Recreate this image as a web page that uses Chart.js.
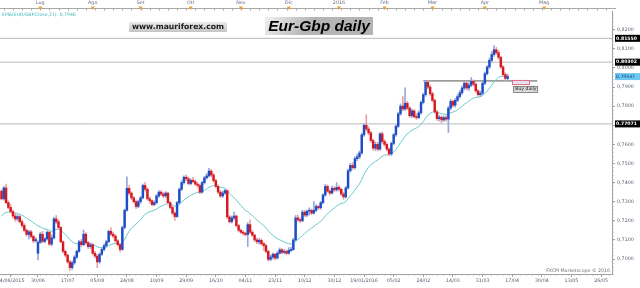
<!DOCTYPE html>
<html>
<head>
<meta charset="utf-8">
<script src="https://cdn.jsdelivr.net/npm/chart.js@4.4.1/dist/chart.umd.min.js"></script>
<style>
  html, body { margin: 0; padding: 0; background: #fff; }
</style>
</head>
<body>
<canvas id="eurgbp" width="640" height="288"></canvas>
<script>
// EUR/GBP daily candles, bar 0 = 08/06/2015, last bar = 15/04/2016
const opens = [
  .7355,.7315,.7372,.7295,.7270,.7248,.7225,.7210,.7222,.7195,
  .7175,.7150,.7128,.7142,.7118,.7095,.7030,.7088,.7130,.7092,
  .7105,.7140,.7078,.7110,.7210,.7195,.7165,.7090,.7040,.7020,
  .6985,.6955,.6980,.7010,.7040,.7090,.7075,.7130,.7085,.7065,
  .7075,.7030,.7015,.6985,.7025,.7050,.7070,.7090,.7145,.7130,
  .7120,.7095,.7075,.7050,.7165,.7255,.7370,.7345,.7320,.7300,
  .7275,.7300,.7320,.7385,.7365,.7315,.7305,.7285,.7295,.7330,
  .7350,.7340,.7330,.7345,.7295,.7270,.7240,.7222,.7295,.7365,
  .7400,.7428,.7420,.7395,.7412,.7405,.7392,.7385,.7350,.7400,
  .7425,.7435,.7460,.7440,.7410,.7380,.7350,.7330,.7345,.7358,
  .7220,.7195,.7215,.7225,.7175,.7150,.7140,.7135,.7128,.7180,
  .7140,.7125,.7100,.7090,.7098,.7080,.7070,.7040,.6998,.7010,
  .7025,.7005,.7030,.7048,.7035,.7040,.7030,.7045,.7050,.7100,
  .7215,.7205,.7200,.7245,.7230,.7250,.7255,.7240,.7255,.7275,
  .7268,.7295,.7335,.7380,.7355,.7345,.7370,.7362,.7375,.7365,
  .7340,.7325,.7372,.7462,.7490,.7478,.7525,.7535,.7555,.7650,
  .7700,.7680,.7660,.7620,.7580,.7600,.7575,.7655,.7615,.7600,
  .7575,.7550,.7605,.7650,.7695,.7760,.7800,.7785,.7815,.7790,
  .7750,.7775,.7745,.7740,.7765,.7820,.7860,.7925,.7900,.7865,
  .7830,.7770,.7735,.7742,.7728,.7740,.7732,.7790,.7825,.7805,
  .7830,.7850,.7870,.7895,.7920,.7895,.7910,.7930,.7915,.7880,
  .7860,.7868,.7920,.7970,.8005,.8040,.8070,.8095,.8080,.8055,
  .8005,.7965,.7945
];
const highs = [
  .7362,.7380,.7392,.7305,.7285,.7258,.7240,.7232,.7228,.7205,
  .7185,.7158,.7150,.7150,.7125,.7112,.7095,.7140,.7145,.7112,
  .7148,.7145,.7125,.7220,.7228,.7205,.7170,.7095,.7048,.7025,
  .6992,.6990,.7018,.7048,.7098,.7102,.7152,.7138,.7092,.7085,
  .7080,.7040,.7022,.7032,.7058,.7080,.7098,.7152,.7165,.7140,
  .7128,.7102,.7082,.7172,.7262,.7430,.7385,.7352,.7328,.7308,
  .7308,.7328,.7392,.7400,.7372,.7325,.7310,.7305,.7338,.7358,
  .7358,.7348,.7352,.7350,.7302,.7278,.7248,.7302,.7372,.7410,
  .7435,.7440,.7430,.7420,.7428,.7415,.7400,.7392,.7408,.7432,
  .7448,.7475,.7468,.7448,.7418,.7388,.7358,.7355,.7365,.7362,
  .7228,.7225,.7245,.7230,.7182,.7158,.7148,.7142,.7190,.7205,
  .7150,.7132,.7110,.7108,.7105,.7088,.7078,.7048,.7020,.7032,
  .7030,.7040,.7058,.7055,.7050,.7048,.7060,.7062,.7108,.7228,
  .7230,.7215,.7255,.7255,.7258,.7268,.7262,.7300,.7285,.7282,
  .7302,.7342,.7390,.7388,.7362,.7382,.7380,.7400,.7385,.7372,
  .7350,.7380,.7470,.7500,.7505,.7535,.7548,.7565,.7658,.7710,
  .7755,.7692,.7668,.7628,.7612,.7610,.7662,.7665,.7625,.7608,
  .7582,.7612,.7658,.7702,.7768,.7812,.7850,.7896,.7825,.7798,
  .7785,.7782,.7760,.7775,.7828,.7868,.7935,.7932,.7910,.7875,
  .7838,.7778,.7752,.7750,.7748,.7750,.7800,.7835,.7832,.7840,
  .7860,.7882,.7905,.7930,.7928,.7922,.7950,.7938,.7922,.7888,
  .7878,.7928,.7978,.8012,.8052,.8085,.8117,.8108,.8092,.8062,
  .8012,.7975,.7968
];
const lows = [
  .7310,.7308,.7290,.7262,.7240,.7215,.7198,.7200,.7188,.7165,
  .7142,.7120,.7105,.7110,.7085,.7088,.6995,.7080,.7085,.7085,
  .7098,.7070,.7070,.7105,.7185,.7158,.7085,.7030,.7010,.6978,
  .6940,.6945,.6972,.7002,.7035,.7065,.7070,.7078,.7055,.7055,
  .7022,.7005,.6955,.6978,.7018,.7042,.7062,.7085,.7122,.7110,
  .7088,.7068,.7037,.7045,.7158,.7250,.7335,.7310,.7292,.7265,
  .7268,.7290,.7315,.7355,.7308,.7292,.7278,.7278,.7288,.7322,
  .7332,.7320,.7322,.7288,.7262,.7232,.7202,.7218,.7288,.7358,
  .7392,.7410,.7388,.7388,.7398,.7385,.7375,.7342,.7345,.7392,
  .7418,.7428,.7430,.7400,.7372,.7342,.7322,.7322,.7338,.7212,
  .7188,.7188,.7205,.7168,.7142,.7132,.7125,.7120,.7065,.7132,
  .7118,.7092,.7080,.7078,.7072,.7045,.7032,.6990,.6990,.7000,
  .6995,.7000,.7025,.7028,.7028,.7022,.7025,.7038,.7045,.7095,
  .7195,.7190,.7195,.7220,.7222,.7230,.7232,.7235,.7248,.7260,
  .7260,.7288,.7328,.7348,.7335,.7340,.7352,.7355,.7355,.7332,
  .7312,.7318,.7365,.7455,.7468,.7470,.7515,.7525,.7548,.7642,
  .7670,.7650,.7610,.7570,.7568,.7565,.7568,.7605,.7590,.7565,
  .7540,.7542,.7598,.7642,.7688,.7752,.7775,.7778,.7782,.7742,
  .7740,.7738,.7730,.7735,.7758,.7812,.7852,.7890,.7855,.7822,
  .7762,.7725,.7722,.7712,.7720,.7722,.7662,.7780,.7795,.7795,
  .7822,.7842,.7860,.7885,.7885,.7882,.7902,.7905,.7872,.7852,
  .7850,.7860,.7912,.7962,.7998,.8030,.8060,.8070,.8045,.7998,
  .7955,.7935,.7935
];
const closes = [
  .7315,.7372,.7295,.7270,.7248,.7225,.7210,.7222,.7195,.7175,
  .7150,.7128,.7142,.7118,.7095,.7102,.7088,.7130,.7092,.7105,
  .7140,.7078,.7110,.7210,.7195,.7165,.7090,.7040,.7020,.6985,
  .6955,.6980,.7010,.7040,.7090,.7075,.7130,.7085,.7065,.7075,
  .7030,.7015,.6985,.7025,.7050,.7070,.7090,.7145,.7130,.7120,
  .7095,.7075,.7050,.7165,.7255,.7370,.7345,.7320,.7300,.7275,
  .7300,.7320,.7385,.7365,.7315,.7305,.7285,.7295,.7330,.7350,
  .7340,.7330,.7345,.7295,.7270,.7240,.7222,.7295,.7365,.7400,
  .7428,.7420,.7395,.7412,.7405,.7392,.7385,.7350,.7400,.7425,
  .7435,.7460,.7440,.7410,.7380,.7350,.7330,.7345,.7358,.7220,
  .7195,.7215,.7225,.7175,.7150,.7140,.7135,.7128,.7180,.7140,
  .7125,.7100,.7090,.7098,.7080,.7070,.7040,.6998,.7010,.7025,
  .7005,.7030,.7048,.7035,.7040,.7030,.7045,.7050,.7100,.7215,
  .7205,.7200,.7245,.7230,.7250,.7255,.7240,.7255,.7275,.7268,
  .7295,.7335,.7380,.7355,.7345,.7370,.7362,.7375,.7365,.7340,
  .7325,.7372,.7462,.7490,.7478,.7525,.7535,.7555,.7650,.7700,
  .7680,.7660,.7620,.7580,.7600,.7575,.7655,.7615,.7600,.7575,
  .7550,.7605,.7650,.7695,.7760,.7800,.7785,.7815,.7790,.7750,
  .7775,.7745,.7740,.7765,.7820,.7860,.7925,.7900,.7865,.7830,
  .7770,.7735,.7742,.7728,.7740,.7732,.7790,.7825,.7805,.7830,
  .7850,.7870,.7895,.7920,.7895,.7910,.7930,.7915,.7880,.7860,
  .7868,.7920,.7970,.8005,.8040,.8070,.8095,.8080,.8055,.8005,
  .7965,.7945,.7955
];

// axis labels (bar index they sit on)
const dateTickBars = [4, 16, 29, 42, 55, 68, 81, 94, 107, 120, 133, 146, 159, 172, 185, 198, 211, 224, 237, 250, 263];
const dateTickLabels = ['04/06/2015', '30/06', '17/07', '05/08', '24/08', '10/09', '29/09', '16/10', '04/11', '23/11',
  '10/12', '30/12', '19/01/2016', '05/02', '24/02', '14/03', '31/03', '17/04', '30/04', '13/05', '26/05'];
const monthBars = [17, 40, 61, 83, 105, 126, 148, 168, 189, 212, 238];
const monthLabels = ['Lug', 'Ago', 'Set', 'Ott', 'Nov', 'Dic', '2016', 'Feb', 'Mar', 'Apr', 'Mag'];
const priceTicks = [0.70, 0.71, 0.72, 0.73, 0.74, 0.75, 0.76, 0.77, 0.78, 0.79, 0.80, 0.81, 0.82];

// drawn levels
const levels = [0.81550, 0.80302, 0.77071];
const lastQuote = 0.79547;
const resistance = 0.7932;
const resistanceBars = [185, 235];
const buyZoneBars = [224, 231.5];
const buyZonePrices = [0.7917, 0.7938];

const emaPeriod = 21;
const emaSeed = 0.7215;
const emaText = 'EMA(EUR/GBP.Close,21): 0,7946';

const k = 2 / (emaPeriod + 1);
let e = emaSeed;
const emaPoints = closes.map((c, i) => { e = e + k * (c - e); return { x: i, y: e }; });

const up = closes.map((c, i) => c >= opens[i]);
const wickData = highs.map((h, i) => ({ x: i, y: [lows[i], h] }));
const bodyData = opens.map((o, i) => ({ x: i, y: [o, closes[i]] }));

Chart.defaults.font.family = 'DejaVu Sans';

const levelSets = levels.map(v => ({
  type: 'line',
  data: [{ x: -2, y: v }, { x: 270, y: v }],
  borderColor: '#b8b8b8',
  borderWidth: 1,
  pointRadius: 0,
  order: 6,
}));

const extras = {
  id: 'extras',
  afterDraw(chart) {
    const { ctx, chartArea: ca, scales: { x, y } } = chart;
    ctx.save();

    // top ruler with months
    ctx.strokeStyle = '#a8a8a8';
    ctx.lineWidth = 1;
    ctx.beginPath();
    ctx.moveTo(0, 8.5);
    ctx.lineTo(ca.right + 4, 8.5);
    for (let b = 1; b < 268; b += 4) {
      const px = Math.round(x.getPixelForValue(b)) + 0.5;
      ctx.moveTo(px, 8.5);
      ctx.lineTo(px, 10.5);
    }
    ctx.stroke();
    ctx.font = '4.8px "DejaVu Sans"';
    ctx.fillStyle = '#6a6a80';
    ctx.textAlign = 'center';
    ctx.textBaseline = 'middle';
    monthBars.forEach((b, i) => {
      const px = x.getPixelForValue(b);
      ctx.fillText(monthLabels[i], px, 3);
    });
    ctx.fillStyle = '#f0a020';
    monthBars.forEach(b => {
      const px = x.getPixelForValue(b);
      ctx.beginPath();
      ctx.moveTo(px - 2, 6.5);
      ctx.lineTo(px + 2, 6.5);
      ctx.lineTo(px, 10);
      ctx.closePath();
      ctx.fill();
    });

    // minor ticks bottom and right
    ctx.strokeStyle = '#a8a8a8';
    ctx.beginPath();
    for (let b = 4 - 2.6; b < 268; b += 2.6) {
      const px = Math.round(x.getPixelForValue(b)) + 0.5;
      if (px < 0) continue;
      ctx.moveTo(px, ca.bottom);
      ctx.lineTo(px, ca.bottom + 1.5);
    }
    for (let v = 0.692; v < 0.8298; v += 0.002) {
      const py = Math.round(y.getPixelForValue(v)) + 0.5;
      ctx.moveTo(ca.right, py);
      ctx.lineTo(ca.right + 1.5, py);
    }
    ctx.stroke();

    // boxed levels on the price axis
    ctx.font = 'bold 4.6px "DejaVu Sans"';
    ctx.textAlign = 'left';
    levels.forEach(v => {
      const py = y.getPixelForValue(v);
      ctx.fillStyle = '#000';
      ctx.fillRect(ca.right + 3, py - 3.5, 640 - ca.right - 3, 7);
      ctx.fillStyle = '#fff';
      ctx.fillText(v.toFixed(5), ca.right + 4, py);
    });
    const qy = y.getPixelForValue(lastQuote);
    ctx.fillStyle = '#6cc8f0';
    ctx.fillRect(ca.right + 3, qy - 3.5, 640 - ca.right - 3, 7);
    ctx.fillStyle = '#124080';
    ctx.font = '4.6px "DejaVu Sans"';
    ctx.fillText(lastQuote.toFixed(5), ca.right + 4, qy);

    // buy zone
    const zx1 = x.getPixelForValue(buyZoneBars[0]);
    const zx2 = x.getPixelForValue(buyZoneBars[1]);
    const zy1 = y.getPixelForValue(buyZonePrices[1]);
    const zy2 = y.getPixelForValue(buyZonePrices[0]);
    ctx.fillStyle = '#e4e0f2';
    ctx.fillRect(zx1, zy1, zx2 - zx1, zy2 - zy1);
    ctx.strokeStyle = '#e07088';
    ctx.strokeRect(Math.round(zx1) + 0.5, Math.round(zy1) + 0.5, Math.round(zx2 - zx1), Math.round(zy2 - zy1));
    ctx.fillStyle = '#d8d8d8';
    ctx.fillRect(zx1 + 1, zy2 + 2, 25, 6);
    ctx.strokeStyle = '#888';
    ctx.strokeRect(Math.round(zx1) + 1.5, Math.round(zy2) + 2.5, 24, 6);
    ctx.fillStyle = '#222';
    ctx.font = '4.6px "DejaVu Sans"';
    ctx.fillText('Buy daily', zx1 + 3, zy2 + 5.5);

    // indicator caption
    ctx.fillStyle = '#3fb8b8';
    ctx.font = '4.6px "DejaVu Sans"';
    ctx.fillText(emaText, 2, 14.5);

    // title boxes
    let g = ctx.createLinearGradient(0, 22, 0, 32);
    g.addColorStop(0, '#ececec');
    g.addColorStop(1, '#c4c4c4');
    ctx.fillStyle = g;
    ctx.fillRect(129, 22, 98, 10);
    ctx.fillStyle = '#1a1a1a';
    ctx.font = 'bold 7.7px "DejaVu Sans"';
    ctx.textAlign = 'center';
    ctx.fillText('www.mauriforex.com', 178, 27.5);

    g = ctx.createLinearGradient(265, 17, 300, 40);
    g.addColorStop(0, '#f2f2f2');
    g.addColorStop(1, '#b4b4b4');
    ctx.fillStyle = g;
    ctx.fillRect(265, 17, 108, 18);
    ctx.fillStyle = '#000';
    ctx.font = 'italic bold 15.5px "Liberation Sans"';
    ctx.fillText('Eur-Gbp daily', 319, 26.5);

    // watermark
    ctx.fillStyle = '#707070';
    ctx.font = '4.7px "DejaVu Sans"';
    ctx.textAlign = 'right';
    ctx.fillText('FXCM Marketscope \u00a9 2016', ca.right - 2, ca.bottom - 3);

    ctx.restore();
  }
};

new Chart(document.getElementById('eurgbp'), {
  type: 'bar',
  data: {
    datasets: [
      ...levelSets,
      {
        type: 'line',
        data: resistanceBars.map(b => ({ x: b, y: resistance })),
        borderColor: '#555',
        borderWidth: 1,
        pointRadius: 0,
        order: 5,
      },
      {
        type: 'line',
        data: emaPoints,
        borderColor: '#66caca',
        borderWidth: 1,
        pointRadius: 0,
        tension: 0,
        order: 4,
      },
      {
        data: wickData,
        backgroundColor: up.map(u => u ? '#9aa8d8' : '#e8a4a4'),
        barThickness: 1,
        grouped: false,
        minBarLength: 1,
        order: 3,
      },
      {
        data: bodyData,
        backgroundColor: up.map(u => u ? '#1c4ec8' : '#d81820'),
        barThickness: 1.8,
        grouped: false,
        minBarLength: 1,
        order: 2,
      },
    ]
  },
  options: {
    responsive: false,
    animation: false,
    devicePixelRatio: 1,
    layout: { padding: { top: 11, left: 0, right: 0, bottom: 0 } },
    plugins: { legend: { display: false }, tooltip: { enabled: false } },
    scales: {
      x: {
        type: 'linear',
        min: -0.66,
        max: 267.76,
        offset: false,
        grid: { drawOnChartArea: false, tickLength: 3, color: '#a0a0a0', offset: false },
        border: { color: '#a0a0a0' },
        afterBuildTicks: s => { s.ticks = dateTickBars.map(v => ({ value: v })); },
        ticks: {
          autoSkip: false,
          maxRotation: 0,
          padding: 1,
          color: '#5a5a72',
          font: { size: 4.8 },
          callback: v => dateTickLabels[dateTickBars.indexOf(v)],
        },
        afterFit: s => { s.height = 14; s.paddingLeft = 0; s.paddingRight = 0; },
      },
      y: {
        position: 'right',
        min: 0.69215,
        max: 0.8298,
        grid: { drawOnChartArea: false, tickLength: 3, color: '#a0a0a0' },
        border: { color: '#a0a0a0' },
        afterBuildTicks: s => { s.ticks = priceTicks.map(v => ({ value: v })); },
        ticks: {
          padding: 2,
          color: '#5a5a72',
          font: { size: 4.8 },
          callback: v => v.toFixed(4).replace('.', ','),
        },
        afterFit: s => { s.width = 28; s.paddingTop = 0; s.paddingBottom = 0; },
      },
    },
  },
  plugins: [extras],
});
</script>
</body>
</html>
